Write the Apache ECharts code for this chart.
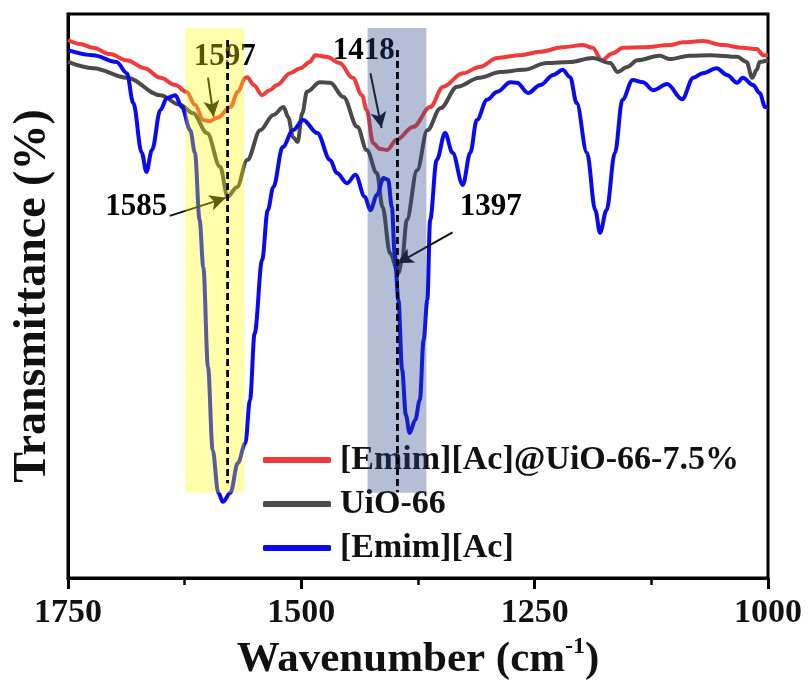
<!DOCTYPE html>
<html>
<head>
<meta charset="utf-8">
<script src="https://cdn.jsdelivr.net/npm/echarts@6/dist/echarts.min.js"></script>
<style>html,body{margin:0;padding:0;background:#fff}#c{width:810px;height:688px}</style>
</head>
<body>
<div id="c"></div>
<script>
// Series: [wavenumber (cm-1), transmittance (arb. %)]
const compositeName = '[Emim][Ac]@UiO-66-7.5%';
const uioName = 'UiO-66';
const ilName = '[Emim][Ac]';

const compositeData = [[1750,95.4],[1737,94.7],[1723,94.0],[1705,92.9],[1687,91.8],[1668,90.4],[1651,88.7],[1635,87.4],[1623,86.2],[1614,83.9],[1605,81.2],[1598,81.0],[1590,81.6],[1576,83.5],[1568,86.2],[1560,88.7],[1558,88.8],[1551,87.4],[1542,85.6],[1534,86.5],[1526,87.4],[1512,89.5],[1501,90.4],[1491,91.5],[1485,92.7],[1473,92.4],[1459,91.3],[1445,88.7],[1435,85.6],[1430,83.0],[1423,77.1],[1416,76.1],[1408,75.9],[1398,77.7],[1380,80.0],[1362,83.5],[1348,87.1],[1327,89.5],[1309,90.6],[1290,92.2],[1266,92.7],[1244,93.3],[1220,94.1],[1198,94.5],[1188,94.0],[1178,91.8],[1167,93.0],[1155,94.0],[1134,94.1],[1105,94.5],[1091,95.0],[1070,95.2],[1048,94.5],[1027,94.0],[1012,93.8],[1005,92.7],[1000,92.7]];

const uioData = [[1750,91.5],[1723,90.4],[1687,88.7],[1651,85.6],[1630,83.9],[1616,82.4],[1601,78.9],[1587,72.9],[1579,67.6],[1569,69.3],[1558,74.1],[1544,79.4],[1530,82.1],[1519,83.5],[1514,81.7],[1509,78.2],[1504,77.3],[1499,82.4],[1494,86.2],[1480,87.9],[1469,87.8],[1455,85.3],[1440,80.0],[1430,75.9],[1419,71.8],[1413,65.8],[1405,57.6],[1396,54.1],[1392,56.5],[1387,63.5],[1376,72.3],[1365,79.4],[1351,83.3],[1333,87.1],[1309,88.7],[1287,89.7],[1262,90.1],[1237,91.3],[1212,91.5],[1188,92.2],[1169,91.3],[1161,89.7],[1151,90.6],[1140,91.8],[1116,92.6],[1105,92.0],[1084,92.6],[1062,92.7],[1033,92.4],[1023,91.5],[1017,88.7],[1012,90.1],[1009,91.5],[1000,91.8]];

const ilData = [[1750,93.6],[1723,92.7],[1698,91.5],[1687,89.5],[1680,84.2],[1671,75.4],[1666,72.0],[1660,75.9],[1651,83.0],[1644,85.1],[1635,85.6],[1628,83.5],[1619,79.4],[1614,75.4],[1609,63.5],[1605,55.1],[1600,37.4],[1595,22.7],[1589,15.1],[1584,13.5],[1576,15.1],[1568,20.4],[1560,23.9],[1555,31.6],[1550,43.4],[1542,56.4],[1536,65.2],[1530,69.3],[1520,76.4],[1509,79.4],[1498,81.2],[1483,78.9],[1469,74.1],[1462,71.8],[1451,70.0],[1442,71.5],[1432,67.6],[1426,65.2],[1419,67.9],[1412,70.9],[1407,70.6],[1403,65.8],[1400,57.6],[1396,49.3],[1392,36.9],[1388,28.9],[1384,25.7],[1378,28.0],[1373,31.6],[1369,42.2],[1365,49.3],[1362,63.5],[1355,74.1],[1346,78.9],[1338,75.4],[1327,69.7],[1319,75.4],[1312,81.2],[1301,84.8],[1290,86.2],[1276,87.9],[1269,87.8],[1257,86.0],[1244,87.4],[1230,89.2],[1220,90.1],[1212,88.8],[1205,84.2],[1194,75.4],[1185,65.2],[1180,61.2],[1173,65.2],[1164,75.4],[1156,84.8],[1145,88.3],[1134,87.9],[1123,86.5],[1108,87.6],[1092,84.9],[1080,88.7],[1070,89.5],[1055,90.4],[1044,89.2],[1033,87.8],[1027,88.7],[1016,87.4],[1009,86.0],[1003,83.5],[1000,83.5]];

// Highlight bands: [wnStart, wnEnd, tBottom, tTop]
const bands = [[1624,1561,15.1,97.5],[1429,1366,15.1,97.5]];
const bandColors = ['rgba(255,255,0,0.33)','rgba(40,70,140,0.35)'];
// Dashed guide lines: [wn, tBottom, tTop]
const guides = [[1579,16.8,95.4],[1397,15.2,93.6]];
// Peak labels: [wn, t, text]
const peakLabels = [[1582,92.3,'1597'],[1433,93.4,'1418'],[1677,65.8,'1585'],[1297,65.8,'1397']];
// Arrows: [[fromWn, fromT], [toWn, toT]]
const arrows = [[[1600,88.7],[1594,81.8]],[[1426,89.5],[1414,79.8]],[[1641,64.2],[1581,67.4]],[[1338,61.3],[1397,55.8]]];

const xTicks = [1000,1250,1500,1750];

const FONT = '"Liberation Serif","Times New Roman",serif';
const chart = echarts.init(document.getElementById('c'));

chart.setOption({
  animation: false,
  backgroundColor: '#fff',
  grid: {left: 68, right: 42, top: 14, bottom: 110, show: true, borderColor: '#000', borderWidth: 3, backgroundColor: 'transparent'},
  legend: {
    data: [compositeName, uioName, ilName],
    orient: 'vertical', left: 258, top: 436,
    itemWidth: 68, itemHeight: 6, itemGap: 6, icon: 'roundRect',
    textStyle: {fontFamily: FONT, fontWeight: 'bold', fontSize: 34, color: '#111', padding: [0,0,0,4], lineHeight: 38},
    z: 4
  },
  xAxis: {
    type: 'value', min: 1000, max: 1750, interval: 250, inverse: true,
    name: '{a|Wavenumber (cm}{s|-1}{a|)}', nameLocation: 'middle', nameGap: 50,
    nameTextStyle: {rich: {
      a: {fontFamily: FONT, fontWeight: 'bold', fontSize: 43, color: '#111', lineHeight: 50},
      s: {fontFamily: FONT, fontWeight: 'bold', fontSize: 24, color: '#111', verticalAlign: 'top', lineHeight: 26}
    }},
    axisLine: {show: true, lineStyle: {color: '#000', width: 3}},
    axisTick: {show: true, length: 11, lineStyle: {color: '#000', width: 3}},
    minorTick: {show: true, splitNumber: 2, length: 7, lineStyle: {color: '#000', width: 2.5}},
    splitLine: {show: false}, minorSplitLine: {show: false},
    axisLabel: {fontFamily: FONT, fontWeight: 'bold', fontSize: 34, color: '#111', margin: 18,
      formatter: v => xTicks.includes(v) ? String(v) : ''}
  },
  yAxis: {
    type: 'value', min: 0, max: 100,
    name: 'Transmittance (%)', nameLocation: 'middle', nameGap: 12, nameRotate: 90,
    nameTextStyle: {fontFamily: FONT, fontWeight: 'bold', fontSize: 46, color: '#111'},
    axisLine: {show: true, lineStyle: {color: '#000', width: 3}},
    axisTick: {show: false}, axisLabel: {show: false}, splitLine: {show: false}
  },
  series: [
    {name: compositeName, type: 'line', data: compositeData, showSymbol: false, smooth: 0.35, smoothMonotone: 'x',
      lineStyle: {color: '#EF3B3B', width: 4}, itemStyle: {color: '#EF3B3B'}, z: 2},
    {name: uioName, type: 'line', data: uioData, showSymbol: false, smooth: 0.35, smoothMonotone: 'x',
      lineStyle: {color: '#4A4A4A', width: 4}, itemStyle: {color: '#4A4A4A'}, z: 2},
    {name: ilName, type: 'line', data: ilData, showSymbol: false, smooth: 0.35, smoothMonotone: 'x',
      lineStyle: {color: '#0A0AF0', width: 4}, itemStyle: {color: '#0A0AF0'}, z: 2},
    {name: 'labels', type: 'scatter', data: peakLabels, symbolSize: 1, itemStyle: {color: 'rgba(0,0,0,0)', opacity: 1}, z: 5,
      label: {show: true, position: 'inside', formatter: p => p.value[2], fontFamily: FONT, fontWeight: 'bold', fontSize: 31, color: '#000', opacity: 1},
      markLine: {silent: true, symbol: ['none','arrow'], symbolSize: [12, 16], z: 5,
        lineStyle: {color: '#111', width: 2, type: 'solid', opacity: 1}, label: {show: false},
        data: arrows.map(a => [{coord: a[0]}, {coord: a[1]}])}
    },
    {name: 'bands', type: 'custom', z: 10, silent: true, data: bands,
      renderItem: (params, api) => {
        const p1 = api.coord([api.value(0), api.value(3)]);
        const p2 = api.coord([api.value(1), api.value(2)]);
        return {type: 'rect', shape: {x: Math.min(p1[0],p2[0]), y: p1[1], width: Math.abs(p2[0]-p1[0]), height: p2[1]-p1[1]},
          style: {fill: bandColors[params.dataIndex]}};
      }},
    {name: 'guides', type: 'custom', z: 11, silent: true, data: guides,
      renderItem: (params, api) => {
        const p1 = api.coord([api.value(0), api.value(2)]);
        const p2 = api.coord([api.value(0), api.value(1)]);
        return {type: 'line', shape: {x1: p1[0], y1: p1[1], x2: p2[0], y2: p2[1]},
          style: {stroke: '#000', lineWidth: 2.8, lineDash: [7, 4]}};
      }}
  ]
});
</script>
</body>
</html>
